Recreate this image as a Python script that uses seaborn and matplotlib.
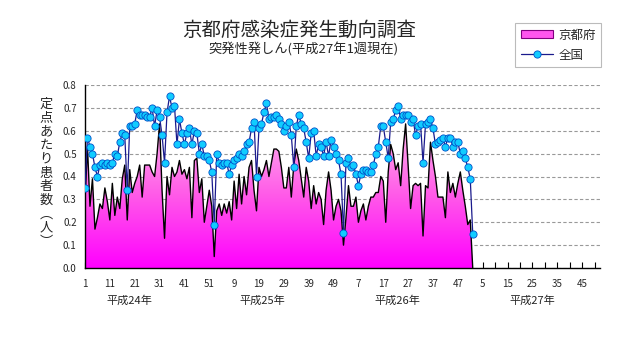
import numpy as np
import matplotlib
matplotlib.use("Agg")
import matplotlib.pyplot as plt
import seaborn as sns
from matplotlib.colors import LinearSegmentedColormap
from matplotlib.patches import Patch
from matplotlib.lines import Line2D

# ---------------- data ----------------
kyoto = [0.30, 0.53, 0.27, 0.39, 0.17, 0.22, 0.28, 0.26, 0.35, 0.29,
         0.21, 0.37, 0.23, 0.31, 0.26, 0.39, 0.45, 0.21, 0.43, 0.33,
         0.37, 0.40, 0.45, 0.31, 0.45, 0.45, 0.45, 0.42, 0.40, 0.50,
         0.63, 0.34, 0.13, 0.40, 0.32, 0.44, 0.40, 0.42, 0.47, 0.41,
         0.43, 0.39, 0.44, 0.22, 0.47, 0.48, 0.33, 0.39, 0.20, 0.27,
         0.34, 0.27, 0.05, 0.25, 0.28, 0.23, 0.28, 0.24, 0.29, 0.21,
         0.38, 0.26, 0.41, 0.28, 0.40, 0.32, 0.44, 0.47, 0.34, 0.25,
         0.44, 0.40, 0.43, 0.47, 0.40, 0.46, 0.52, 0.52, 0.51, 0.44,
         0.35, 0.35, 0.44, 0.31, 0.45, 0.52, 0.47, 0.39, 0.31, 0.44,
         0.38, 0.26, 0.36, 0.28, 0.33, 0.30, 0.19, 0.34, 0.42, 0.34,
         0.21, 0.27, 0.30, 0.25, 0.10, 0.22, 0.36, 0.27, 0.27, 0.31,
         0.20, 0.25, 0.28, 0.21, 0.27, 0.31, 0.31, 0.33, 0.33, 0.40,
         0.38, 0.20, 0.42, 0.54, 0.50, 0.43, 0.46, 0.36, 0.52, 0.63,
         0.45, 0.26, 0.36, 0.37, 0.36, 0.37, 0.14, 0.36, 0.35, 0.55,
         0.47, 0.40, 0.31, 0.31, 0.31, 0.22, 0.42, 0.33, 0.37, 0.31,
         0.37, 0.42, 0.34, 0.27, 0.19, 0.21, 0.00]

national = [0.35, 0.57, 0.53, 0.50, 0.44, 0.40, 0.45, 0.46, 0.45, 0.46,
            0.45, 0.46, 0.50, 0.49, 0.55, 0.59, 0.58, 0.34, 0.62, 0.62,
            0.63, 0.69, 0.67, 0.67, 0.67, 0.66, 0.66, 0.70, 0.62, 0.69,
            0.66, 0.58, 0.46, 0.68, 0.75, 0.70, 0.71, 0.54, 0.65, 0.59,
            0.54, 0.59, 0.61, 0.54, 0.60, 0.59, 0.50, 0.54, 0.49, 0.49,
            0.47, 0.42, 0.19, 0.50, 0.46, 0.45, 0.46, 0.46, 0.41, 0.45,
            0.47, 0.48, 0.50, 0.49, 0.51, 0.54, 0.55, 0.61, 0.64, 0.40,
            0.61, 0.63, 0.68, 0.72, 0.65, 0.66, 0.66, 0.67, 0.65, 0.63,
            0.60, 0.62, 0.64, 0.58, 0.44, 0.62, 0.67, 0.63, 0.61, 0.55,
            0.48, 0.59, 0.60, 0.49, 0.54, 0.53, 0.49, 0.55, 0.49, 0.56,
            0.53, 0.50, 0.47, 0.41, 0.155, 0.46, 0.48, 0.44, 0.45, 0.41,
            0.36, 0.41, 0.43, 0.43, 0.42, 0.42, 0.45, 0.50, 0.53, 0.62,
            0.62, 0.55, 0.48, 0.64, 0.65, 0.69, 0.71, 0.65, 0.67, 0.67,
            0.67, 0.64, 0.65, 0.58, 0.62, 0.63, 0.46, 0.63, 0.64, 0.65,
            0.61, 0.54, 0.55, 0.56, 0.57, 0.53, 0.57, 0.57, 0.53, 0.55,
            0.55, 0.50, 0.51, 0.48, 0.44, 0.39, 0.15]

year_weeks = [52, 52, 52, 52]
year_labels = ["平成24年", "平成25年", "平成26年", "平成27年"]
y_ticks = [0.0, 0.1, 0.2, 0.3, 0.4, 0.5, 0.6, 0.7, 0.8]
series_names = ["京都府", "全国"]
title = "京都府感染症発生動向調査"
subtitle = "突発性発しん(平成27年1週現在)"
ylabel = "定点あたり患者数︵人︶"

# week-of-year labels for every position
week_of_year = []
for n in year_weeks:
    week_of_year += list(range(1, n + 1))
n_pos = len(week_of_year)

# ---------------- plotting ----------------
sns.set_style("white")
plt.rcParams["font.family"] = ["Noto Sans CJK JP", "DejaVu Sans"]

fig = plt.figure(figsize=(6.31, 3.47), dpi=100)
ax = fig.add_axes([85 / 631, 79 / 347, 515 / 631, 183 / 347])

xk = np.arange(len(kyoto))
xn = np.arange(len(national))

# gradient-filled area for Kyoto
poly = ax.fill_between(xk, 0, kyoto, facecolor="none", edgecolor="none")
cmap = LinearSegmentedColormap.from_list("pk", ["#FF00FF", "#FF5CE8", "#FFB8EE"])
grad = np.linspace(0, 1, 256).reshape(-1, 1)
im = ax.imshow(grad, extent=[0, len(kyoto) - 1, 0, 0.65], origin="lower",
               cmap=cmap, aspect="auto", zorder=1, interpolation="bilinear")
im.set_clip_path(poly.get_paths()[0], transform=ax.transData)

sns.lineplot(x=xk, y=kyoto, color="black", lw=1.0, ax=ax, zorder=3)
sns.lineplot(x=xn, y=national, color="#1a1a8c", lw=0.9, marker="o",
             markersize=5.2, markerfacecolor="#11CCFF", markeredgecolor="#0050C8",
             markeredgewidth=0.6, ax=ax, zorder=4)

ax.set_xlim(0, n_pos - 0.8)
ax.set_ylim(0, 0.8)

ax.set_xticks(range(0, n_pos, 10))
ax.set_xticklabels([str(week_of_year[i]) for i in range(0, n_pos, 10)], fontsize=7)
ax.set_xticks(range(0, n_pos, 5), minor=True)
ax.tick_params(axis="x", which="both", direction="in", length=4, width=0.8,
               color="black", pad=8, bottom=True)
ax.set_yticks(y_ticks)
ax.set_yticklabels([f"{v:.1f}" for v in y_ticks], fontsize=7)
ax.tick_params(axis="y", length=0, pad=6)

ax.yaxis.grid(True, color="#999999", linestyle=(0, (3, 2)), lw=0.8)
ax.xaxis.grid(False)
for s in ["top", "right"]:
    ax.spines[s].set_visible(False)
for s in ["left", "bottom"]:
    ax.spines[s].set_color("black")
    ax.spines[s].set_linewidth(1.0)
ax.set_xlabel("")
ax.set_ylabel("")

# year labels under axis
year_px = [129, 262, 397, 532]
for lab, px in zip(year_labels, year_px):
    fig.text(px / 631, 1 - 301 / 347, lab, ha="center", va="center", fontsize=8)

# vertical y label
fig.text(46 / 631, 1 - 173 / 347, "\n".join(ylabel), ha="center", va="center",
         fontsize=9.5, linespacing=1.08)

# titles
fig.text(299 / 631, 1 - 30 / 347, title, ha="center", va="center", fontsize=14)
fig.text(303 / 631, 1 - 49 / 347, subtitle, ha="center", va="center", fontsize=9.5)

# legend
handles = [Patch(facecolor="#FF55EE", edgecolor="#800080", lw=0.8),
           Line2D([0], [0], color="#1a1a8c", lw=0.9, marker="o", markersize=5.2,
                  markerfacecolor="#11CCFF", markeredgecolor="#0050C8",
                  markeredgewidth=0.6)]
leg = fig.legend(handles, series_names, loc="upper left",
                 bbox_to_anchor=(515 / 631, 1 - 23 / 347), frameon=True,
                 fancybox=False, edgecolor="#aaaaaa", fontsize=9,
                 handlelength=2.6, handleheight=0.6, borderpad=0.45,
                 labelspacing=0.55, handletextpad=0.4, borderaxespad=0)
leg.get_frame().set_linewidth(0.8)

fig.savefig("out.png", dpi=100)
